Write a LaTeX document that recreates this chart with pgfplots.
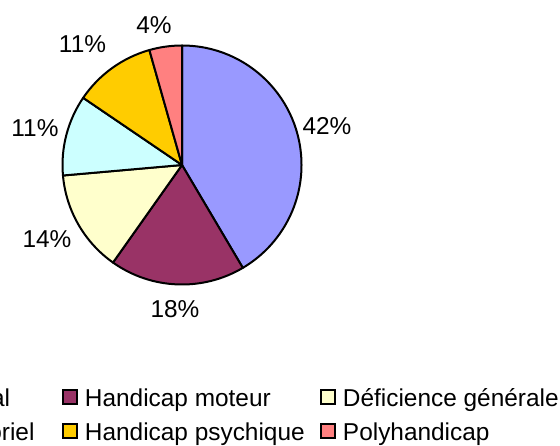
\documentclass[border=0pt]{standalone}
\usepackage{fontspec}
\setmainfont{Liberation Sans}
\usepackage{pgfplots}
\pgfplotsset{compat=1.18}
\definecolor{c1}{HTML}{9999FF}
\definecolor{c2}{HTML}{993366}
\definecolor{c3}{HTML}{FFFFCC}
\definecolor{c4}{HTML}{CCFFFF}
\definecolor{c5}{HTML}{FFCC00}
\definecolor{c6}{HTML}{FF8080}
% slice values (percent)
\def\vA{41.5}\def\vB{18.3}\def\vC{13.8}\def\vD{10.9}\def\vE{11.1}\def\vF{4.4}
\newcommand{\lt}[1]{\makebox[117.5pt][l]{\rule[-2.4pt]{0pt}{13.4pt}#1}}
\begin{document}
\begin{tikzpicture}[font=\fontsize{12.2}{14.6}\selectfont]
\useasboundingbox (0,0) rectangle (280pt,222.5pt);
\clip (0,0) rectangle (280pt,222.5pt);
\pgfmathsetmacro{\aA}{90}
\pgfmathsetmacro{\aB}{\aA-3.6*\vA}
\pgfmathsetmacro{\aC}{\aB-3.6*\vB}
\pgfmathsetmacro{\aD}{\aC-3.6*\vC}
\pgfmathsetmacro{\aE}{\aD-3.6*\vD}
\pgfmathsetmacro{\aF}{\aE-3.6*\vE}
\pgfmathsetmacro{\aG}{\aF-3.6*\vF}
\begin{axis}[
  at={(91pt,140pt)}, anchor=center,
  x=59.75pt, y=59.75pt, xmin=-1, xmax=1, ymin=-1, ymax=1,
  hide axis, clip=false,
  legend columns=3,
  legend cell align=left,
  legend image code/.code={\draw[#1, line width=1pt] (0pt,-3.5pt) rectangle (7pt,3.5pt);},
  legend style={draw=none, fill=none, inner sep=0pt, outer sep=0pt,
    at={(-1.0816,-0.4184)}, anchor=north west,
    nodes={inner sep=0pt}, column sep=0pt, row sep=4.6pt,
    /tikz/every odd column/.append style={column sep=3.5pt}},
]
\addlegendimage{fill=c1, draw=black}\addlegendentry{\lt{Handicap mental}}
\addlegendimage{fill=c2, draw=black}\addlegendentry{\lt{Handicap moteur}}
\addlegendimage{fill=c3, draw=black}\addlegendentry{\lt{Déficience générale}}
\addlegendimage{fill=c4, draw=black}\addlegendentry{\lt{Handicap sensoriel}}
\addlegendimage{fill=c5, draw=black}\addlegendentry{\lt{Handicap psychique}}
\addlegendimage{fill=c6, draw=black}\addlegendentry{\lt{Polyhandicap}}
\filldraw[fill=c1, draw=black, line width=1pt, line join=round] (axis cs:0,0) -- (axis cs:{cos(\aA)},{sin(\aA)}) arc[start angle=\aA, end angle=\aB, radius=1] -- cycle;
\filldraw[fill=c2, draw=black, line width=1pt, line join=round] (axis cs:0,0) -- (axis cs:{cos(\aB)},{sin(\aB)}) arc[start angle=\aB, end angle=\aC, radius=1] -- cycle;
\filldraw[fill=c3, draw=black, line width=1pt, line join=round] (axis cs:0,0) -- (axis cs:{cos(\aC)},{sin(\aC)}) arc[start angle=\aC, end angle=\aD, radius=1] -- cycle;
\filldraw[fill=c4, draw=black, line width=1pt, line join=round] (axis cs:0,0) -- (axis cs:{cos(\aD)},{sin(\aD)}) arc[start angle=\aD, end angle=\aE, radius=1] -- cycle;
\filldraw[fill=c5, draw=black, line width=1pt, line join=round] (axis cs:0,0) -- (axis cs:{cos(\aE)},{sin(\aE)}) arc[start angle=\aE, end angle=\aF, radius=1] -- cycle;
\filldraw[fill=c6, draw=black, line width=1pt, line join=round] (axis cs:0,0) -- (axis cs:{cos(\aF)},{sin(\aF)}) arc[start angle=\aF, end angle=\aG, radius=1] -- cycle;
\node at (axis cs:1.2134,0.3222) {42\%};
\node at (axis cs:-0.0586,-1.205) {18\%};
\node at (axis cs:-1.1297,-0.6192) {14\%};
\node at (axis cs:-1.2301,0.3096) {11\%};
\node at (axis cs:-0.8326,1.0126) {11\%};
\node at (axis cs:-0.2343,1.1715) {4\%};
\end{axis}
\end{tikzpicture}
\end{document}
